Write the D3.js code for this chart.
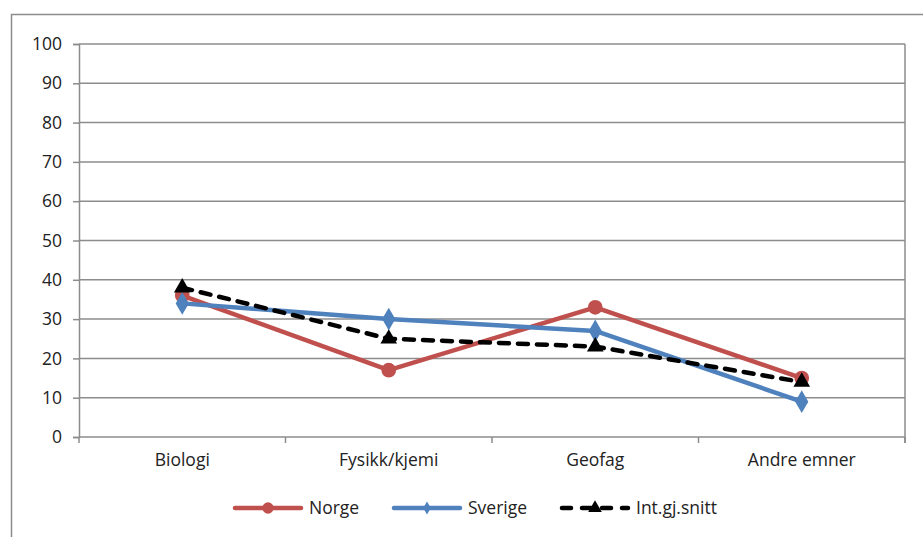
<!DOCTYPE html>
<html>
<head>
<meta charset="utf-8">
<script src="https://cdn.jsdelivr.net/npm/d3@7"></script>
<style>
  body { margin: 0; background: #fff; }
  svg { display: block; font-family: "Open Sans", sans-serif; }
</style>
</head>
<body>
<svg id="chart"></svg>
<script>
const categories = ['Biologi', 'Fysikk/kjemi', 'Geofag', 'Andre emner'];
const norge = [36, 17, 33, 15];
const sverige = [34, 30, 27, 9];
const intSnitt = [38, 25, 23, 14];
const seriesNames = ['Norge', 'Sverige', 'Int.gj.snitt'];
const yTicks = [0, 10, 20, 30, 40, 50, 60, 70, 80, 90, 100];

const W = 923, H = 537;
const margin = {left: 79, right: 18, top: 44, bottom: 100};
const w = W - margin.left - margin.right;
const h = H - margin.top - margin.bottom;
const grey = '#8c8c8c';
const fontSize = 17.5;

const svg = d3.select('#chart').attr('width', W).attr('height', H);

// outer chart border
svg.append('rect')
  .attr('x', 11.5).attr('y', 14.5)
  .attr('width', W).attr('height', H)
  .attr('fill', 'none').attr('stroke', grey).attr('stroke-width', 1.5);

const g = svg.append('g').attr('transform', `translate(${margin.left},${margin.top})`);

const x = d3.scaleBand().domain(categories).range([0, w]);
const y = d3.scaleLinear().domain([0, 100]).range([h, 0]);

// gridlines
g.append('g').selectAll('line')
  .data(yTicks)
  .join('line')
  .attr('x1', 0).attr('x2', w)
  .attr('y1', d => y(d)).attr('y2', d => y(d))
  .attr('stroke', grey).attr('stroke-width', 1.5);

// right plot edge
g.append('line')
  .attr('x1', w).attr('x2', w).attr('y1', 0).attr('y2', h + 6)
  .attr('stroke', grey).attr('stroke-width', 1.5);

// y axis
const yAxis = g.append('g')
  .call(d3.axisLeft(y).tickValues(yTicks).tickSize(6).tickPadding(11));
yAxis.select('.domain').attr('stroke', grey).attr('stroke-width', 1.5);
yAxis.selectAll('.tick line').attr('stroke', grey).attr('stroke-width', 1.5);
yAxis.selectAll('text').attr('font-size', fontSize).attr('fill', '#222').attr('font-family', '"Open Sans", sans-serif');

// x axis
const xAxis = g.append('g').attr('transform', `translate(0,${h})`)
  .call(d3.axisBottom(x).tickSize(0).tickPadding(17));
xAxis.select('.domain').remove();
xAxis.selectAll('text').attr('font-size', fontSize).attr('fill', '#222').attr('font-family', '"Open Sans", sans-serif');
g.append('g').selectAll('line')
  .data(d3.range(categories.length + 1))
  .join('line')
  .attr('x1', i => i * x.bandwidth()).attr('x2', i => i * x.bandwidth())
  .attr('y1', h).attr('y2', h + 6)
  .attr('stroke', grey).attr('stroke-width', 1.5);

const cx = c => x(c) + x.bandwidth() / 2;
const line = d3.line().x((d, i) => cx(categories[i])).y(d => y(d));

const series = [
  {name: seriesNames[0], values: norge, color: '#c0504d', dash: null, marker: 'circle'},
  {name: seriesNames[1], values: sverige, color: '#4f81bd', dash: null, marker: 'diamond'},
  {name: seriesNames[2], values: intSnitt, color: '#000', dash: '10,9', marker: 'triangle'}
];

function marker(sel, type, size, color) {
  const sym = {circle: d3.symbolCircle, diamond: d3.symbolDiamond, triangle: d3.symbolTriangle}[type];
  sel.attr('d', d3.symbol().type(sym).size(size)).attr('fill', color);
}
const markerSize = {circle: 170, diamond: 150, triangle: 120};

series.forEach(s => {
  g.append('path')
    .datum(s.values)
    .attr('d', line)
    .attr('fill', 'none')
    .attr('stroke', s.color)
    .attr('stroke-width', 4.5)
    .attr('stroke-linecap', s.dash ? 'round' : 'butt')
    .attr('stroke-linejoin', 'round')
    .attr('stroke-dasharray', s.dash);
  g.append('g').selectAll('path')
    .data(s.values)
    .join('path')
    .attr('transform', (d, i) => `translate(${cx(categories[i])},${y(d)})`)
    .call(marker, s.marker, markerSize[s.marker], s.color);
});

// legend
const legendX = [233, 392, 560];
const legY = 508;
const leg = svg.append('g').selectAll('g')
  .data(series)
  .join('g')
  .attr('transform', (d, i) => `translate(${legendX[i]},${legY})`);
leg.append('line')
  .attr('x1', 2).attr('x2', 68)
  .attr('stroke', d => d.color)
  .attr('stroke-width', 4.5)
  .attr('stroke-linecap', 'round')
  .attr('stroke-dasharray', d => d.dash ? '9,11' : null);
leg.append('path')
  .attr('transform', 'translate(35,0)')
  .each(function(d) {
    const sz = {circle: 100, diamond: 50, triangle: 80}[d.marker];
    d3.select(this).call(marker, d.marker, sz, d.color);
  });
leg.append('text')
  .attr('x', 76).attr('y', 0).attr('dy', '0.35em')
  .attr('font-size', fontSize).attr('fill', '#222')
  .text(d => d.name);
</script>
</body>
</html>
